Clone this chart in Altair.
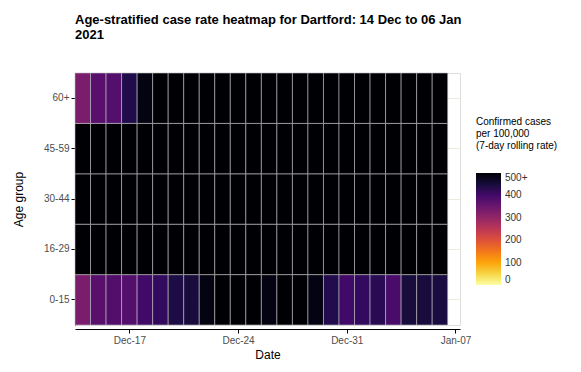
import altair as alt
import pandas as pd

dates = pd.date_range("2020-12-14", "2021-01-06", freq="D").strftime("%Y-%m-%d").tolist()
age_groups = ["60+", "45-59", "30-44", "16-29", "0-15"]

rate_0_15 = [330, 372, 380, 378, 400, 418, 442, 448, 485, 500, 500, 500,
             485, 500, 500, 483, 435, 400, 415, 428, 390, 450, 448, 446]
rate_16_29 = [500] * 24
rate_30_44 = [500] * 24
rate_45_59 = [500] * 24
rate_60p = [330, 372, 378, 437, 485, 500, 500, 500, 500, 500, 500, 500,
            500, 500, 500, 500, 500, 500, 500, 500, 500, 500, 500, 500]

tick_dates = ["2020-12-17", "2020-12-24", "2020-12-31", "2021-01-07"]

series = {"0-15": rate_0_15, "16-29": rate_16_29, "30-44": rate_30_44,
          "45-59": rate_45_59, "60+": rate_60p}
rows = []
for g, vals in series.items():
    for d, v in zip(dates, vals):
        rows.append({"date": d, "age": g, "rate": v})
df = pd.DataFrame(rows)

def ms(s):
    return int(pd.Timestamp(s, tz="UTC").value // 10**6)

x_domain = [ms("2020-12-13 12:00"), ms("2021-01-07 07:00")]
tick_vals = [ms(t) for t in tick_dates]

chart = alt.Chart(df).transform_calculate(
    start="toDate(datum.date) - 43200000",
    end="toDate(datum.date) + 43200000",
).mark_rect(stroke="#bdbdbd", strokeWidth=0.6).encode(
    x=alt.X("start:T", title="Date",
            scale=alt.Scale(type="utc", domain=x_domain),
            axis=alt.Axis(values=tick_vals,
                          labelExpr="utcFormat(datum.value, '%b-%d')",
                          grid=False, offset=4, labelFontSize=10,
                          labelColor="#4d4d4d", titleFontSize=12,
                          titleFontWeight="normal", domainColor="black",
                          tickColor="black", tickSize=4, labelPadding=2,
                          titlePadding=4)),
    x2="end:T",
    y=alt.Y("age:N", title="Age group", sort=age_groups,
            scale=alt.Scale(paddingInner=0, paddingOuter=0),
            axis=alt.Axis(grid=True, gridColor="#ebebe0", tickBand="center",
                          zindex=0,
                          labelFontSize=10, labelColor="#4d4d4d",
                          titleFontSize=12, titleFontWeight="normal",
                          domainColor="black", tickColor="black", tickSize=4,
                          labelPadding=2, titlePadding=18)),
    color=alt.Color("rate:Q",
                    scale=alt.Scale(scheme="inferno", reverse=True,
                                    domain=[0, 500], clamp=True),
                    legend=alt.Legend(
                        title=["Confirmed cases", "\u00a0per 100,000",
                               "\u00a0(7-day rolling rate)"],
                        titleFontSize=10, titleFontWeight="normal",
                        titleColor="black", labelFontSize=10,
                        labelColor="#333333",
                        gradientLength=112, gradientThickness=25,
                        values=[0, 100, 200, 300, 400, 500],
                        labelExpr="datum.value >= 500 ? '500+' : datum.label",
                        orient="none", legendX=401, legendY=44,
                        titlePadding=22, labelOffset=4)),
).properties(
    width=385, height=252,
    title=alt.TitleParams(
        ["Age-stratified case rate heatmap for Dartford: 14 Dec to 06 Jan", "2021"],
        anchor="start", frame="group", fontSize=13, fontWeight="bold",
        color="black", offset=31, lineHeight=15),
    autosize=alt.AutoSizeParams(type="none"),
    padding={"left": 67, "top": 65, "right": 113, "bottom": 39},
).configure_view(stroke=None).configure(font="Liberation Sans")

chart.save("out.html", embed_options={"renderer": "svg", "actions": False})
